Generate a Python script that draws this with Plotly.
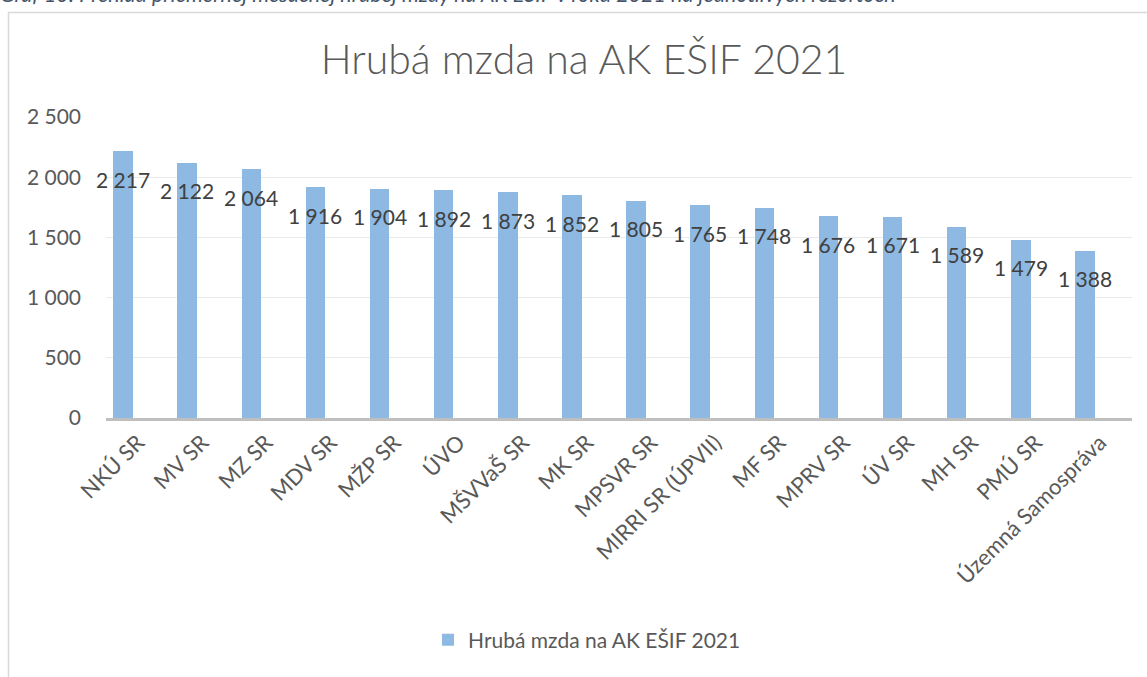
import plotly.graph_objects as go

categories = ["NKÚ SR", "MV SR", "MZ SR", "MDV SR", "MŽP SR", "ÚVO", "MŠVVaŠ SR", "MK SR",
              "MPSVR SR", "MIRRI SR (ÚPVII)", "MF SR", "MPRV SR", "ÚV SR", "MH SR", "PMÚ SR",
              "Územná Samospráva"]
values = [2217, 2122, 2064, 1916, 1904, 1892, 1873, 1852, 1805, 1765, 1748, 1676, 1671, 1589, 1479, 1388]
series_name = "Hrubá mzda na AK EŠIF 2021"
chart_title = "Hrubá mzda na AK EŠIF 2021"
caption = "Graf 10: Prehľad priemernej mesačnej hrubej mzdy na AK EŠIF v roku 2021 na jednotlivých rezortoch"
y_ticks = [0, 500, 1000, 1500, 2000, 2500]

FONT = "Lato"
L, R, T, B = 106, 15, 117, 259
W, H = 1147, 677
pw, ph = W - L - R, H - T - B

def fmt(v):
    return f"{v:,}".replace(",", " ")

fig = go.Figure()
fig.add_trace(go.Bar(
    x=categories, y=values, name=series_name,
    marker=dict(color="#8DB9E2", line=dict(width=0)),
    width=0.304, offset=-0.386,
    showlegend=True,
))

annotations = []
for c, v in zip(categories, values):
    annotations.append(dict(
        x=c, y=v, xref="x", yref="y", text=fmt(v), showarrow=False,
        xshift=-15, yshift=-28, yanchor="middle", xanchor="center",
        font=dict(family=FONT, size=21, color="#404040"),
    ))

annotations.append(dict(
    x=(-2 - L) / pw, y=(T + ph + 6) / ph, xref="paper", yref="paper",
    text=caption, showarrow=False, xanchor="left", yanchor="middle",
    font=dict(family=FONT, size=21.5, color="#44546A", style="italic"),
))

fig.update_layout(
    width=W, height=H,
    margin=dict(l=L, r=R, t=T, b=B, pad=0),
    paper_bgcolor="white", plot_bgcolor="white",
    separators=". ",
    title=dict(text=chart_title, x=584 / W, xanchor="center",
               y=1 - 60 / H, yanchor="middle",
               font=dict(family=FONT, size=41, color="#595959", weight=300)),
    annotations=annotations,
    showlegend=True,
    legend=dict(orientation="h", x=(428 - L) / pw, xanchor="left", y=-(640 - T - ph) / ph,
                yanchor="middle", font=dict(family=FONT, size=21, color="#595959"),
                bgcolor="rgba(0,0,0,0)"),
    shapes=[dict(type="rect", xref="paper", yref="paper",
                 x0=(8.5 - L) / pw, x1=1.2, y0=-1.5, y1=(T + ph - 12.5) / ph,
                 line=dict(color="#D9D9D9", width=1.5), fillcolor="rgba(0,0,0,0)", layer="below")],
    bargap=0,
)

fig.update_xaxes(
    type="category", range=[-0.5, len(categories) - 0.5], autorange=False,
    showgrid=False, showline=True, linecolor="#BFBFBF", linewidth=3,
    ticks="", tickangle=-45, tickfont=dict(family=FONT, size=22, color="#595959"),
    zeroline=False, automargin=False,
)
fig.update_yaxes(
    range=[0, 2500], tickvals=y_ticks, ticktext=[fmt(t) for t in y_ticks],
    showgrid=True, gridcolor="#E9E9E9", gridwidth=1, zeroline=False, showline=False,
    ticks="", ticklabelstandoff=24, automargin=False,
    tickfont=dict(family=FONT, size=21, color="#595959"),
)

fig.write_html("out.html", config={"displayModeBar": False},
               post_script="document.body.style.margin='0';document.body.style.padding='0';")
